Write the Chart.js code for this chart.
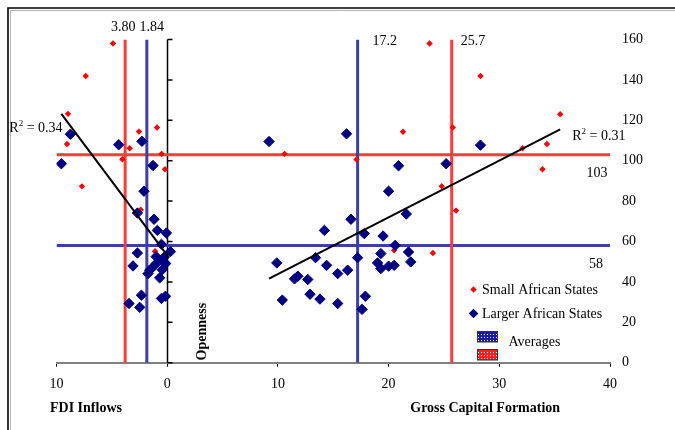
<!DOCTYPE html>
<html>
<head>
<meta charset="utf-8">
<script src="https://cdn.jsdelivr.net/npm/chart.js@4.4.0/dist/chart.umd.min.js"></script>
<style>
  html, body { margin: 0; padding: 0; background: #fff; }
  #wrap { width: 675px; height: 430px; }
</style>
</head>
<body>
<div id="wrap"><canvas id="chart" width="675" height="430"></canvas></div>
<script>
// FDI inflows (% of GDP, plotted mirrored to the left of zero) and gross
// capital formation (% of GDP, to the right) against trade openness.

// Small African States
const smallFdi      = [4.90, 7.36, 8.96, 9.05, 2.55, 0.92, 3.39, 4.05, 0.50, 0.20, 7.70, 2.39, 1.10];
const smallFdiOpen  = [158.0, 141.9, 123.2, 108.3, 114.4, 116.4, 106.2, 100.7, 103.4, 95.8, 87.3, 75.7, 55.2];
const smallGcf      = [10.6, 17.1, 21.3, 20.5, 23.7, 28.3, 25.8, 35.5, 32.1, 34.3, 24.8, 33.9, 26.1, 24.0];
const smallGcfOpen  = [103.4, 100.6, 114.3, 55.7, 158.0, 141.9, 116.4, 123.0, 106.2, 108.3, 87.4, 95.8, 75.3, 54.3];

// Larger African States
const largeFdi      = [8.75, 9.56, 4.38, 2.28, 1.28, 2.10, 2.69, 1.19, 0.89, 0.07, 0.52, -0.29, 2.69, 3.09,
                       0.68, 2.33, 3.45, 2.48, 0.52, 0.16, 0.32, 0.68, 0.98, 1.28, 1.58, 1.73, 0.14, 1.00, 0.45];
const largeFdiOpen  = [113.1, 98.5, 107.9, 109.6, 97.6, 84.9, 74.1, 71.0, 65.5, 64.2, 58.6, 55.0, 54.3, 47.9,
                       42.0, 33.4, 29.3, 27.4, 31.8, 32.9, 52.0, 50.7, 49.1, 47.4, 45.8, 44.1, 49.1, 52.5, 46.0];
const largeGcf      = [9.2, 16.2, 20.9, 20.0, 21.6, 16.6, 14.2, 17.8, 19.5, 20.6, 21.8, 19.3, 17.2, 13.4, 22.0, 9.9, 19.0,
                       19.3, 20.0, 20.5, 14.4, 16.3, 15.4, 12.7, 11.8, 11.5, 12.9, 10.4, 13.8, 15.4, 17.9, 17.6, 28.3, 25.2];
const largeGcfOpen  = [109.5, 113.3, 97.5, 84.9, 73.6, 71.0, 65.5, 63.9, 62.7, 58.1, 54.8, 54.0, 52.0, 52.0, 49.9, 49.4, 49.4,
                       46.6, 47.8, 48.2, 48.2, 45.8, 44.1, 41.2, 42.8, 41.5, 33.9, 31.0, 31.5, 29.3, 32.9, 26.4, 107.7, 98.5];

// Group averages: [small, larger]
const avgFdi  = [3.80, 1.84];
const avgGcf  = [25.7, 17.2];
const avgOpen = [103, 58];

// Fitted trend lines (end points) and their R-squared
const trendFdi     = [9.56, -0.16];
const trendFdiOpen = [123.2, 52.0];
const trendGcf     = [9.2, 35.5];
const trendGcfOpen = [41.6, 115.5];
const rSquared     = [0.34, 0.31];

const FONT = '"Liberation Serif", "Times New Roman", Times, serif';
const RED = 'rgb(255,60,60)';
const BLUE = 'rgb(62,62,165)';
const NAVY = '#000080';

// FDI values sit on the mirrored left half of the x axis
const pairs = (xs, ys, sign) => xs.map((v, i) => ({ x: sign * v, y: ys[i] }));
const vLine = x => [{ x, y: 0 }, { x, y: 160 }];
const hLine = y => [{ x: -10, y }, { x: 40, y }];

const lineStyle = (color, width, order) => ({
  showLine: true, borderColor: color, backgroundColor: color, borderWidth: width,
  pointRadius: 0, pointHoverRadius: 0, order
});

const datasets = [
  { label: 'Small African States',
    data: [...pairs(smallFdi, smallFdiOpen, -1), ...pairs(smallGcf, smallGcfOpen, 1)],
    pointStyle: 'rectRot', pointRadius: 3.2, pointBorderWidth: 0,
    backgroundColor: '#ff0000', borderColor: '#ff0000', order: 2 },
  { label: 'Larger African States',
    data: [...pairs(largeFdi, largeFdiOpen, -1), ...pairs(largeGcf, largeGcfOpen, 1)],
    pointStyle: 'rectRot', pointRadius: 5.2, pointBorderWidth: 1,
    backgroundColor: NAVY, borderColor: NAVY, order: 1 },
  { label: 'avgFdiSmall',  data: vLine(-avgFdi[0]), ...lineStyle(RED, 3, 3) },
  { label: 'avgFdiLarge',  data: vLine(-avgFdi[1]), ...lineStyle(BLUE, 3, 3) },
  { label: 'avgGcfSmall',  data: vLine(avgGcf[0]),  ...lineStyle(RED, 3, 3) },
  { label: 'avgGcfLarge',  data: vLine(avgGcf[1]),  ...lineStyle(BLUE, 3, 3) },
  { label: 'avgOpenSmall', data: hLine(avgOpen[0]), ...lineStyle(RED, 3, 4) },
  { label: 'avgOpenLarge', data: hLine(avgOpen[1]), ...lineStyle(BLUE, 3, 4) },
  { label: 'trendFdi', data: pairs(trendFdi, trendFdiOpen, -1), ...lineStyle('#000', 2, 0) },
  { label: 'trendGcf', data: pairs(trendGcf, trendGcfOpen, 1), ...lineStyle('#000', 2, 0) }
];

function dotPattern(ctx, base) {
  const c = document.createElement('canvas');
  c.width = 3; c.height = 3;
  const g = c.getContext('2d');
  g.fillStyle = base; g.fillRect(0, 0, 3, 3);
  g.fillStyle = '#ffffff'; g.fillRect(1, 1, 1, 1);
  return ctx.createPattern(c, 'repeat');
}

function diamond(ctx, x, y, r, color) {
  ctx.beginPath();
  ctx.moveTo(x - r, y); ctx.lineTo(x, y - r); ctx.lineTo(x + r, y); ctx.lineTo(x, y + r);
  ctx.closePath();
  ctx.fillStyle = color; ctx.fill();
}

function rLabel(ctx, x, y, value) {
  ctx.font = '14px ' + FONT;
  ctx.textAlign = 'left';
  ctx.textBaseline = 'alphabetic';
  ctx.fillText('R', x, y);
  let w = ctx.measureText('R').width;
  ctx.font = '9px ' + FONT;
  ctx.fillText('2', x + w, y - 6);
  w += ctx.measureText('2').width;
  ctx.font = '14px ' + FONT;
  ctx.fillText(' = ' + value.toFixed(2), x + w, y);
}

const decor = {
  id: 'decor',
  beforeDatasetsDraw(chart) {
    const { ctx } = chart;
    const xs = chart.scales.x, ys = chart.scales.y;
    ctx.save();
    // page frame
    ctx.strokeStyle = '#000'; ctx.lineWidth = 1.6;
    ctx.beginPath(); ctx.moveTo(8, 430); ctx.lineTo(8, 8); ctx.lineTo(675, 8); ctx.stroke();
    ctx.strokeStyle = '#b0b0b0'; ctx.lineWidth = 1;
    ctx.beginPath(); ctx.moveTo(10.5, 430); ctx.lineTo(10.5, 10.5); ctx.lineTo(675, 10.5); ctx.stroke();
    // openness axis at zero with inward ticks
    const x0 = Math.round(xs.getPixelForValue(0)) + 0.5;
    ctx.strokeStyle = '#000'; ctx.lineWidth = 1.5;
    ctx.beginPath();
    ctx.moveTo(x0, ys.getPixelForValue(0)); ctx.lineTo(x0, ys.getPixelForValue(160));
    ys.ticks.forEach(t => {
      const py = ys.getPixelForValue(t.value);
      ctx.moveTo(x0, py); ctx.lineTo(x0 + 5, py);
    });
    ctx.stroke();
    ctx.restore();
  },
  afterDatasetsDraw(chart) {
    const { ctx } = chart;
    const xs = chart.scales.x, ys = chart.scales.y;
    const top = ys.getPixelForValue(160);
    ctx.save();
    ctx.fillStyle = '#000';
    ctx.font = '14px ' + FONT;
    ctx.textBaseline = 'alphabetic';
    // average values
    ctx.textAlign = 'center';
    ctx.fillText(avgFdi[0].toFixed(2), xs.getPixelForValue(-avgFdi[0]) - 2, top - 8.5);
    ctx.fillText(avgFdi[1].toFixed(2), xs.getPixelForValue(-avgFdi[1]) + 5, top - 8.5);
    ctx.textAlign = 'left';
    ctx.fillText(avgGcf[1].toFixed(1), xs.getPixelForValue(avgGcf[1]) + 15, top + 5);
    ctx.fillText(avgGcf[0].toFixed(1), xs.getPixelForValue(avgGcf[0]) + 9, top + 5);
    ctx.textAlign = 'center';
    ctx.fillText(String(avgOpen[0]), xs.getPixelForValue(40) - 13, ys.getPixelForValue(avgOpen[0]) + 22);
    ctx.fillText(String(avgOpen[1]), xs.getPixelForValue(40) - 14, ys.getPixelForValue(avgOpen[1]) + 22);
    // R-squared next to each trend line
    rLabel(ctx, xs.getPixelForValue(-trendFdi[0]) - 52, ys.getPixelForValue(trendFdiOpen[0]) + 18.5, rSquared[0]);
    rLabel(ctx, xs.getPixelForValue(trendGcf[1]) + 12, ys.getPixelForValue(trendGcfOpen[1]) + 10.5, rSquared[1]);
    // axis titles
    ctx.font = 'bold 14px ' + FONT;
    ctx.textAlign = 'left';
    ctx.fillText('FDI Inflows', xs.getPixelForValue(-10) - 6.5, 411.5);
    ctx.fillText('Gross Capital Formation', xs.getPixelForValue(22) - 0.5, 412);
    ctx.save();
    ctx.translate(xs.getPixelForValue(0) + 38.5, ys.getPixelForValue(0) - 31);
    ctx.rotate(-Math.PI / 2);
    ctx.textAlign = 'center';
    ctx.fillText('Openness', 0, 0);
    ctx.restore();
    // legend
    const small = chart.data.datasets[0], large = chart.data.datasets[1];
    const lx = 473.5;
    diamond(ctx, lx, 289.5, 3.2, small.backgroundColor);
    diamond(ctx, lx, 313.5, 4.8, large.backgroundColor);
    ctx.fillStyle = '#000';
    ctx.font = '14px ' + FONT;
    ctx.textAlign = 'left';
    ctx.fillText(small.label, 482, 294);
    ctx.fillText(large.label, 482, 317.5);
    ctx.fillText('Averages', 508.5, 346);
    ctx.fillStyle = dotPattern(ctx, '#1c1ca0');
    ctx.fillRect(477.5, 331.5, 20, 10.5);
    ctx.fillStyle = dotPattern(ctx, '#ff2020');
    ctx.fillRect(477.5, 349.5, 20, 10.5);
    ctx.strokeStyle = '#333'; ctx.lineWidth = 1;
    ctx.strokeRect(477.5, 331.5, 20, 10.5);
    ctx.strokeRect(477.5, 349.5, 20, 10.5);
    ctx.restore();
  }
};

new Chart(document.getElementById('chart'), {
  type: 'scatter',
  data: { datasets },
  options: {
    responsive: false,
    animation: false,
    devicePixelRatio: 1,
    events: [],
    layout: { padding: { left: 56.5, top: 39.5, right: 15, bottom: 27.3 } },
    plugins: { legend: { display: false }, tooltip: { enabled: false } },
    scales: {
      x: {
        type: 'linear', position: 'bottom', min: -10, max: 40,
        ticks: { stepSize: 10, color: '#000', font: { family: FONT, size: 14 }, padding: 9,
                 callback: v => String(Math.abs(v)) },
        grid: { display: true, drawOnChartArea: false, drawTicks: true, tickLength: 4, color: '#000', lineWidth: 1 },
        border: { display: true, color: '#808080', width: 2 },
        afterFit: s => { s.height = 40; }
      },
      y: {
        type: 'linear', position: 'right', min: 0, max: 160,
        ticks: { stepSize: 20, color: '#000', font: { family: FONT, size: 14 }, padding: 12 },
        grid: { display: false, drawTicks: false },
        border: { display: false },
        afterFit: s => { s.width = 50; }
      }
    }
  },
  plugins: [decor]
});
</script>
</body>
</html>
